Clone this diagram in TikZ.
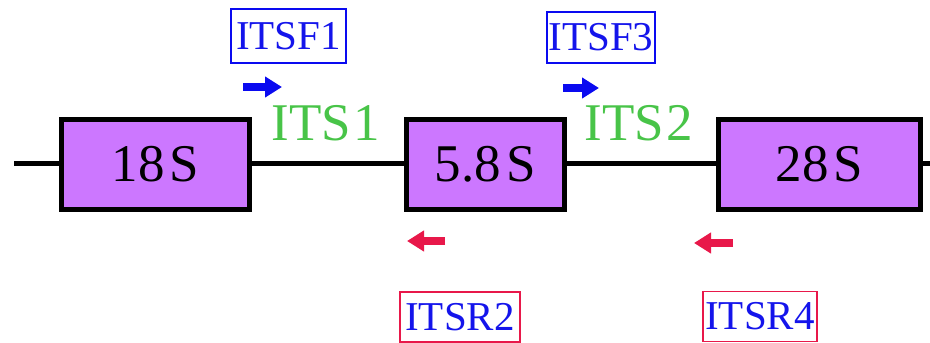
\documentclass[tikz,border=0pt]{standalone}
\usepackage{fontspec}
\setmainfont{Liberation Serif}
\usetikzlibrary{arrows.meta}
\definecolor{genefill}{RGB}{204,119,255}
\definecolor{itsgreen}{RGB}{72,196,72}
\definecolor{fwdblue}{RGB}{10,10,240}
\definecolor{revred}{RGB}{232,24,74}
\definecolor{labelblue}{RGB}{20,20,235}
\tikzset{
  gene/.style={draw=black, line width=5, fill=genefill, minimum height=90, inner sep=0,
    font=\fontsize{53}{53}\selectfont},
  spacer/.style={text=itsgreen, inner sep=0, anchor=base, font=\fontsize{53}{53}\selectfont},
  primer/.style={draw=#1, line width=1.4, text=labelblue, inner sep=0,
    font=\fontsize{41}{41}\selectfont},
  backbone/.style={line width=5, black},
  dirarrow/.style={line width=8, #1, -{Triangle[length=17, width=20]}}
}
\begin{document}
\begin{tikzpicture}[x=1pt, y=-1pt]
  \useasboundingbox (0,0) rectangle (930,343);

  % rRNA genes
  \node[gene, minimum width=188] (s18) at (155.5,164.5) {18\kern0.1em S};
  \node[gene, minimum width=158] (s58) at (485.5,164.5) {5.8\kern0.1em S};
  \node[gene, minimum width=202] (s28) at (819.5,164.5) {28\kern0.1em S};

  % backbone
  \coordinate (lend) at (14,163);
  \coordinate (rend) at (930,163);
  \draw[backbone] (lend) -- (s18.west |- lend);
  \draw[backbone] (s18.east |- lend) -- (s58.west |- lend);
  \draw[backbone] (s58.east |- lend) -- (s28.west |- lend);
  \draw[backbone] (s28.east |- lend) -- (rend);

  % spacer labels
  \node[spacer] (its1) at (326,140) {ITS\kern0.05em 1};
  \node[spacer] (its2) at (639,140) {ITS\kern0.05em 2};

  % primer names
  \node[primer=fwdblue, minimum width=115, minimum height=54] (f1) at (288.5,36) {ITSF1};
  \node[primer=fwdblue, minimum width=108, minimum height=51] (f3) at (601,37.5) {ITSF3};
  \node[primer=revred, minimum width=120, minimum height=50] (r2) at (460,317) {ITSR2};
  \node[primer=revred, minimum width=114, minimum height=50] (r4) at (760,316.5) {ITSR4};

  % primer directions
  \coordinate (f1a) at (243,87);
  \coordinate (f1b) at (282,87);
  \coordinate (f3a) at (563,88);
  \coordinate (f3b) at (599,88);
  \coordinate (r2a) at (445,241);
  \coordinate (r2b) at (407,241);
  \coordinate (r4a) at (733,243);
  \coordinate (r4b) at (694,243);
  \draw[dirarrow=fwdblue] (f1a) -- (f1b);
  \draw[dirarrow=fwdblue] (f3a) -- (f3b);
  \draw[dirarrow=revred] (r2a) -- (r2b);
  \draw[dirarrow=revred] (r4a) -- (r4b);
\end{tikzpicture}
\end{document}
